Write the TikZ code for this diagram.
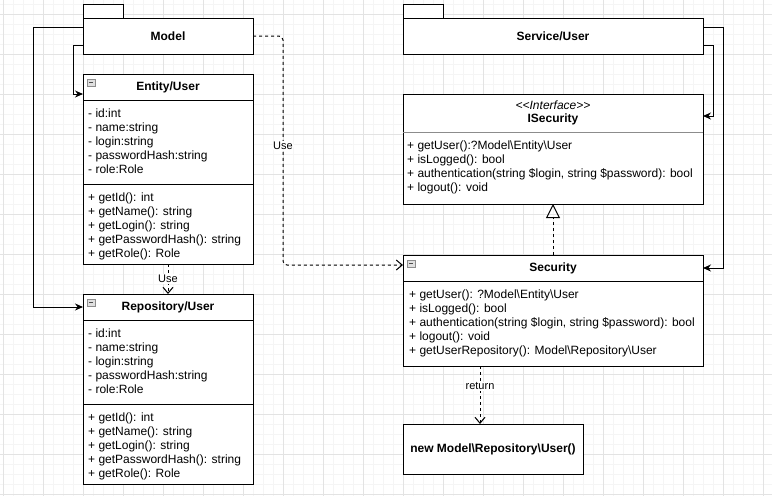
\documentclass[tikz,border=0pt]{standalone}
\usepackage{fontspec}
\setmainfont{Liberation Sans}
\usetikzlibrary{arrows.meta, positioning}

\newcommand{\umlfont}{\fontsize{12}{14}\selectfont}

\tikzset{
  box/.style={draw, fill=white, line width=1pt, inner sep=0pt, outer sep=0pt},
  classhead/.style={box, minimum width=170pt, minimum height=26pt, font=\umlfont\bfseries},
  section/.style={box, minimum width=170pt},
  pkgtab/.style={box, minimum width=40pt, minimum height=14pt, anchor=south west},
  rows/.style={align=left, inner sep=0pt, anchor=north west, font=\umlfont},
  collapse/.style={draw=black!45, fill=black!12, line width=0.6pt, minimum width=8pt, minimum height=7pt, inner sep=0pt,
    path picture={\draw[black!70, line width=0.8pt] ([xshift=2pt]path picture bounding box.west) -- ([xshift=-2pt]path picture bounding box.east);}},
  assoc/.style={line width=1pt, -{Stealth[length=8pt, width=7pt]}},
  dep/.style={line width=1pt, dash pattern=on 3pt off 3pt, -{Straight Barb[length=6pt, width=10pt]}},
  realize/.style={line width=1pt, dash pattern=on 3pt off 3pt, -{Triangle[open, length=14pt, width=14pt]}},
  lbl/.style={fill=white, inner sep=1pt, font=\fontsize{11}{13}\selectfont},
  minorgrid/.style={black!4, line width=0.6pt},
  majorgrid/.style={black!11, line width=0.6pt}
}

\begin{document}
\begin{tikzpicture}[x=1pt, y=-1pt, font=\umlfont]
  \fill[white] (0,0) rectangle (772,496);
  \useasboundingbox (0,0) rectangle (772,496);

  % grid
  \foreach \gx in {3.3,13.3,...,772} \draw[minorgrid] (\gx,0) -- (\gx,496);
  \foreach \gy in {4.3,14.3,...,496} \draw[minorgrid] (0,\gy) -- (772,\gy);
  \foreach \gx in {3.3,43.3,...,772} \draw[majorgrid] (\gx,0) -- (\gx,496);
  \foreach \gy in {14.3,54.3,...,496} \draw[majorgrid] (0,\gy) -- (772,\gy);

  % packages
  \node (modelpkg) [box, anchor=north west, minimum width=170pt, minimum height=36pt, font=\umlfont\bfseries] at (83,18) {Model};
  \node (modeltab) [pkgtab] at (modelpkg.north west) {};
  \node (servicepkg) [box, anchor=north west, minimum width=300pt, minimum height=36pt, font=\umlfont\bfseries] at (403,18) {Service/User};
  \node (servicetab) [pkgtab] at (servicepkg.north west) {};

  % Entity/User
  \node (enthead) [classhead, anchor=north west] at (83,74) {Entity/User};
  \node (entattr) [section, minimum height=84pt, below=0pt of enthead] {};
  \node (entmeth) [section, minimum height=80pt, below=0pt of entattr] {};
  \node (entbtn) [collapse, below right=5pt and 4pt of enthead.north west] {};
  \node (entattrtext) [rows, below right=7.5pt and 5pt of entattr.north west]
    {\strut- id:int\\- name:string\\- login:string\\- passwordHash:string\\- role:Role};
  \node (entmethtext) [rows, below right=7.5pt and 5pt of entmeth.north west]
    {\strut+ getId(): int\\+ getName(): string\\+ getLogin(): string\\+ getPasswordHash(): string\\+ getRole(): Role};

  % Repository/User
  \node (repohead) [classhead, anchor=north west] at (83,294) {Repository/User};
  \node (repoattr) [section, minimum height=84pt, below=0pt of repohead] {};
  \node (repometh) [section, minimum height=80pt, below=0pt of repoattr] {};
  \node (repobtn) [collapse, below right=5pt and 4pt of repohead.north west] {};
  \node (repoattrtext) [rows, below right=7.5pt and 5pt of repoattr.north west]
    {\strut- id:int\\- name:string\\- login:string\\- passwordHash:string\\- role:Role};
  \node (repomethtext) [rows, below right=7.5pt and 5pt of repometh.north west]
    {\strut+ getId(): int\\+ getName(): string\\+ getLogin(): string\\+ getPasswordHash(): string\\+ getRole(): Role};

  % ISecurity
  \node (ishead) [classhead, anchor=north west, minimum width=300pt, minimum height=38pt, align=center,
    font=\fontsize{12}{13.5}\selectfont\bfseries] at (403,94)
    {{\normalfont\itshape <\kern0pt<Interface>\kern0pt>}\\ISecurity};
  \node (ismeth) [section, minimum width=300pt, minimum height=72pt, below=0pt of ishead] {};
  \draw[black!45, line width=1pt] (ishead.south west) -- (ishead.south east);
  \node (ismethtext) [rows, below right=7.5pt and 4pt of ismeth.north west]
    {\strut+ getUser():?Model\textbackslash Entity\textbackslash User\\+ isLogged(): bool\\
     + authentication(string \$login, string \$password): bool\\+ logout(): void};

  % Security
  \node (sechead) [classhead, anchor=north west, minimum width=300pt] at (403,255) {Security};
  \node (secmeth) [section, minimum width=300pt, minimum height=85pt, below=0pt of sechead] {};
  \node (secbtn) [collapse, below right=5pt and 4pt of sechead.north west] {};
  \node (secmethtext) [rows, below right=7.5pt and 6pt of secmeth.north west]
    {\strut+ getUser(): ?Model\textbackslash Entity\textbackslash User\\+ isLogged(): bool\\
     + authentication(string \$login, string \$password): bool\\+ logout(): void\\
     + getUserRepository(): Model\textbackslash Repository\textbackslash User};

  \node (newuser) [box, anchor=north west, minimum width=180pt, minimum height=50pt, font=\umlfont\bfseries] at (403,424)
    {new Model\textbackslash Repository\textbackslash User()};

  % connectors
  \draw[assoc] ([yshift=9pt]modelpkg.west) -- ++(-50,0) |- (repohead.west);
  \draw[assoc] ([yshift=-9pt]modelpkg.west) -- ++(-10,0) |- ([yshift=-7pt]enthead.west);
  \draw[assoc] ([yshift=-9pt]servicepkg.east) -- ++(10,0) |- ([yshift=-3pt]ishead.east);
  \draw[assoc] ([yshift=9pt]servicepkg.east) -- ++(20,0) |- (sechead.east);

  \draw[dep, rounded corners=4pt] (modelpkg.east) -- ++(30,0) |- ([yshift=3pt]sechead.west)
    node[lbl, pos=0.24] (uselbl) {Use};
  \draw[dep] (entmeth.south) -- (repohead.north) node[lbl, midway] (usedown) {Use};
  \draw[realize] (sechead.north) -- (ismeth.south);
  \draw[dep] ([xshift=-73pt]secmeth.south) -- ([xshift=-13pt]newuser.north)
    node[lbl, pos=0.35] (retlbl) {return};
\end{tikzpicture}
\end{document}
